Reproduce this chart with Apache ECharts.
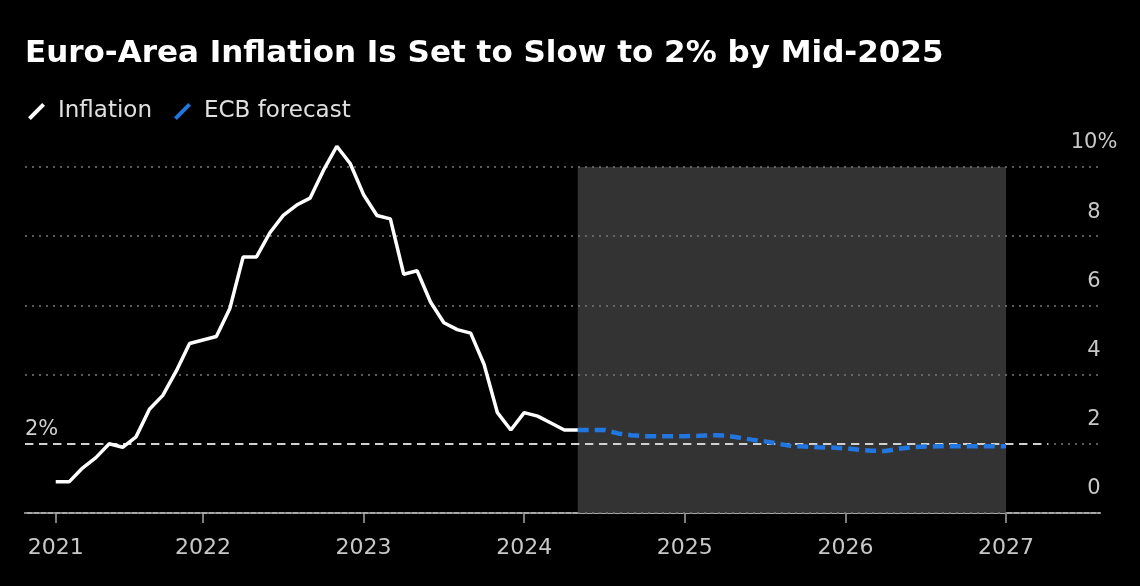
<!DOCTYPE html>
<html><head><meta charset="utf-8">
<script src="https://cdn.jsdelivr.net/npm/echarts@6/dist/echarts.min.js"></script>
<style>html,body{margin:0;padding:0;background:#000;} #c{width:1140px;height:586px;}</style>
</head><body><div id="c"></div>
<script>
// ---- data ----
const inflationMonths = [
  '2021-01','2021-02','2021-03','2021-04','2021-05','2021-06','2021-07','2021-08','2021-09','2021-10','2021-11','2021-12',
  '2022-01','2022-02','2022-03','2022-04','2022-05','2022-06','2022-07','2022-08','2022-09','2022-10','2022-11','2022-12',
  '2023-01','2023-02','2023-03','2023-04','2023-05','2023-06','2023-07','2023-08','2023-09','2023-10','2023-11','2023-12',
  '2024-01','2024-02','2024-03','2024-04'
];
const inflationValues = [
  0.9, 0.9, 1.3, 1.6, 2.0, 1.9, 2.2, 3.0, 3.4, 4.1, 4.9, 5.0,
  5.1, 5.9, 7.4, 7.4, 8.1, 8.6, 8.9, 9.1, 9.9, 10.6, 10.1, 9.2,
  8.6, 8.5, 6.9, 7.0, 6.1, 5.5, 5.3, 5.2, 4.3, 2.9, 2.4, 2.9,
  2.8, 2.6, 2.4, 2.4
];
const forecastMonths = [
  '2024-04','2024-05','2024-06','2024-07','2024-08','2024-09','2024-10','2024-11','2024-12',
  '2025-01','2025-02','2025-03','2025-04','2025-05','2025-06','2025-07','2025-08','2025-09','2025-10','2025-11','2025-12',
  '2026-01','2026-02','2026-03','2026-04','2026-05','2026-06','2026-07','2026-08','2026-09','2026-10','2026-11','2026-12'
];
const forecastValues = [
  2.4, 2.4, 2.4, 2.3, 2.25, 2.22, 2.22, 2.22, 2.22,
  2.23, 2.25, 2.24, 2.18, 2.12, 2.07, 2.0, 1.93, 1.92, 1.9, 1.89, 1.87,
  1.83, 1.8, 1.79, 1.86, 1.9, 1.92, 1.93, 1.93, 1.93, 1.93, 1.93, 1.93
];
const yearTicks = [2021, 2022, 2023, 2024, 2025, 2026, 2027];
const yTicks = [0, 2, 4, 6, 8, 10];
const targetRate = 2;
const titleText = 'Euro-Area Inflation Is Set to Slow to 2% by Mid-2025';
const seriesNames = ['Inflation', 'ECB forecast'];

// month-end position in decimal years
function toX(ym) { const p = ym.split('-').map(Number); return p[0] + p[1] / 12; }
const inflData = inflationMonths.map((m, i) => [toX(m), inflationValues[i]]);
const fcData = forecastMonths.map((m, i) => [toX(m), forecastValues[i]]);
const tickVals = yearTicks.map((y, i) => i === 0 ? toX(inflationMonths[0]) : y);
const fcStart = toX(forecastMonths[0]);
const fcEnd = toX(forecastMonths[forecastMonths.length - 1]);

const FONT = '"DejaVu Sans", sans-serif';
const slash = 'path://M0,15 L15,0 L18,3 L3,18 Z';

const chart = echarts.init(document.getElementById('c'), null, { renderer: 'canvas' });
chart.setOption({
  backgroundColor: '#000',
  animation: false,
  title: {
    text: titleText, left: 25, top: 38, padding: 0,
    textStyle: { color: '#fff', fontSize: 31, fontWeight: 'bold', fontFamily: FONT }
  },
  legend: {
    left: 28, top: 100, padding: 0, itemGap: 22, itemWidth: 19, itemHeight: 17,
    data: [
      { name: seriesNames[0], icon: slash, itemStyle: { color: '#fff' } },
      { name: seriesNames[1], icon: slash, itemStyle: { color: '#2176e0' } }
    ],
    textStyle: { color: '#e0e0e0', fontSize: 23, fontFamily: FONT, padding: [0, 0, 0, 7] }
  },
  grid: { left: 25, right: 40, top: 167, bottom: 73 },
  xAxis: {
    type: 'value', min: 2020.892, max: 2027.585,
    splitLine: { show: false },
    axisLine: { show: true, lineStyle: { color: '#a8a8a8', width: 2 } },
    axisTick: { show: true, length: 10, customValues: tickVals, lineStyle: { color: '#a8a8a8', width: 1.5 } },
    axisLabel: {
      customValues: tickVals, margin: 24, color: '#c8c8c8', fontSize: 22, fontFamily: FONT,
      formatter: v => String(Math.floor(v + 1e-6))
    }
  },
  yAxis: {
    type: 'value', position: 'right', min: yTicks[0], max: yTicks[yTicks.length - 1], interval: 2, z: 2,
    axisLine: { show: false }, axisTick: { show: false },
    splitLine: { show: true, lineStyle: { color: '#787878', type: [2, 5], width: 1.5 } },
    axisLabel: {
      color: '#c8c8c8', fontSize: 21, fontFamily: FONT, align: 'center', margin: -6,
      verticalAlign: 'bottom', lineHeight: 48,
      formatter: v => v === yTicks[yTicks.length - 1] ? v + '%' : String(v)
    }
  },
  series: [
    {
      name: seriesNames[1], type: 'line', data: fcData, z: 3, symbol: 'none', clip: false,
      lineStyle: { color: '#2176e0', width: 4.5, type: [11, 6] },
      itemStyle: { color: '#2176e0' },
      markArea: {
        silent: true, z: 1,
        itemStyle: { color: '#333333' },
        data: [[{ coord: [fcStart, yTicks[0]] }, { coord: [fcEnd, yTicks[yTicks.length - 1]] }]]
      }
    },
    {
      name: seriesNames[0], type: 'line', data: inflData, z: 4, symbol: 'none', clip: false,
      lineStyle: { color: '#ffffff', width: 3.5 },
      itemStyle: { color: '#fff' },
      markLine: {
        silent: true, symbol: 'none', z: 2,
        lineStyle: { color: '#d0d0d0', width: 2, type: [8, 6] },
        label: {
          show: true, position: 'insideStartTop', formatter: targetRate + '%',
          color: '#d0d0d0', fontSize: 21, fontFamily: FONT, distance: [0, 4]
        },
        data: [[{ coord: [2020.892, targetRate] }, { coord: [2027.26, targetRate] }]]
      }
    }
  ]
});
</script></body></html>
